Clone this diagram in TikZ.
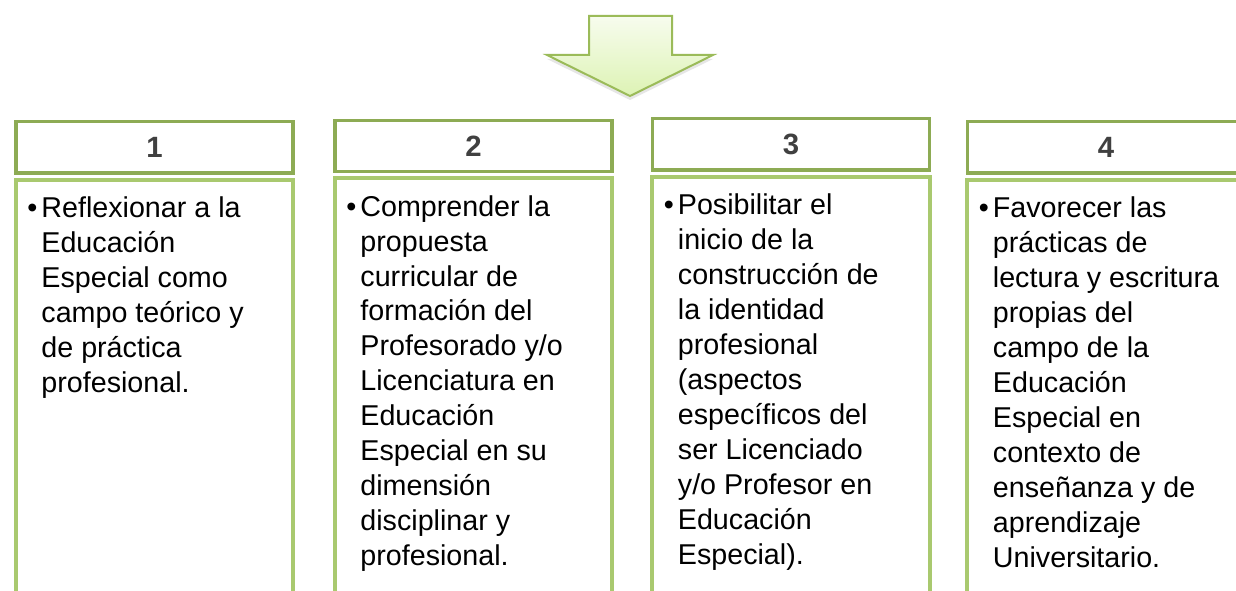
\documentclass[tikz,border=0pt]{standalone}
\usepackage{fontspec}
\setmainfont{Liberation Sans}
\usetikzlibrary{positioning, shadows}
\definecolor{hdrgreen}{RGB}{141, 171, 84}
\definecolor{boxgreen}{RGB}{169, 201, 111}
\definecolor{arrowline}{RGB}{155, 187, 89}
\definecolor{arrowtop}{RGB}{247, 252, 238}
\definecolor{arrowbot}{RGB}{221, 243, 180}
\definecolor{numgray}{RGB}{64, 64, 64}

\tikzset{
  header/.style={draw=hdrgreen, line width=2.6pt, fill=white, minimum width=208pt, minimum height=38.6pt,
    text=numgray, font=\fontsize{22}{26}\selectfont\bfseries},
  body/.style={draw=boxgreen, line width=3pt, fill=white, minimum width=208pt, minimum height=340pt, below=2.25pt of #1},
  bodytext/.style={anchor=north west, inner sep=0pt, align=left, text=black,
    font=\fontsize{21.5}{26.2}\selectfont, below right=14pt and 20.5pt of #1},
  bigarrow/.style={draw=arrowline, line width=1.5pt, top color=arrowtop, bottom color=arrowbot,
    drop shadow={shadow xshift=0pt, shadow yshift=-3pt, opacity=.2}}
}

\begin{document}
\begin{tikzpicture}[x=0.75pt, y=-0.75pt]
  \useasboundingbox (0,0) rectangle (1236,591);
  \clip (0,0) rectangle (1236,591);

  % arrow on top
  \draw[bigarrow] (589,16) -- (672,16) -- (672,55) -- (713,55) -- (630,96) -- (547,55) -- (589,55) -- cycle;

  % number headers
  \node[header] (h1) at (154.5,147.5) {1};
  \node[header] (h2) at (473.5,146) {2};
  \node[header] (h3) at (791,144.5) {3};
  \node[header] (h4) at (1106,147.5) {4};

  % boxes below the headers
  \node[body=h1, anchor=north] (b1) {};
  \node[body=h2, anchor=north] (b2) {};
  \node[body=h3, anchor=north] (b3) {};
  \node[body=h4, anchor=north] (b4) {};

  \node[bodytext=b1.north west] (t1) {\llap{•\hspace{3pt}}Reflexionar a la\\ Educación\\ Especial como\\
    campo teórico y\\ de práctica\\ profesional.};
  \node[bodytext=b2.north west] (t2) {\llap{•\hspace{3pt}}Comprender la\\ propuesta\\ curricular de\\
    formación del\\ Profesorado y/o\\ Licenciatura en\\ Educación\\ Especial en su\\ dimensión\\
    disciplinar y\\ profesional.};
  \node[bodytext=b3.north west] (t3) {\llap{•\hspace{3pt}}Posibilitar el\\ inicio de la\\ construcción de\\
    la identidad\\ profesional\\ (aspectos\\ específicos del\\ ser Licenciado\\ y/o Profesor en\\
    Educación\\ Especial).};
  \node[bodytext=b4.north west] (t4) {\llap{•\hspace{3pt}}Favorecer las\\ prácticas de\\ lectura y escritura\\
    propias del\\ campo de la\\ Educación\\ Especial en\\ contexto de\\ enseñanza y de\\ aprendizaje\\
    Universitario.};
\end{tikzpicture}
\end{document}
